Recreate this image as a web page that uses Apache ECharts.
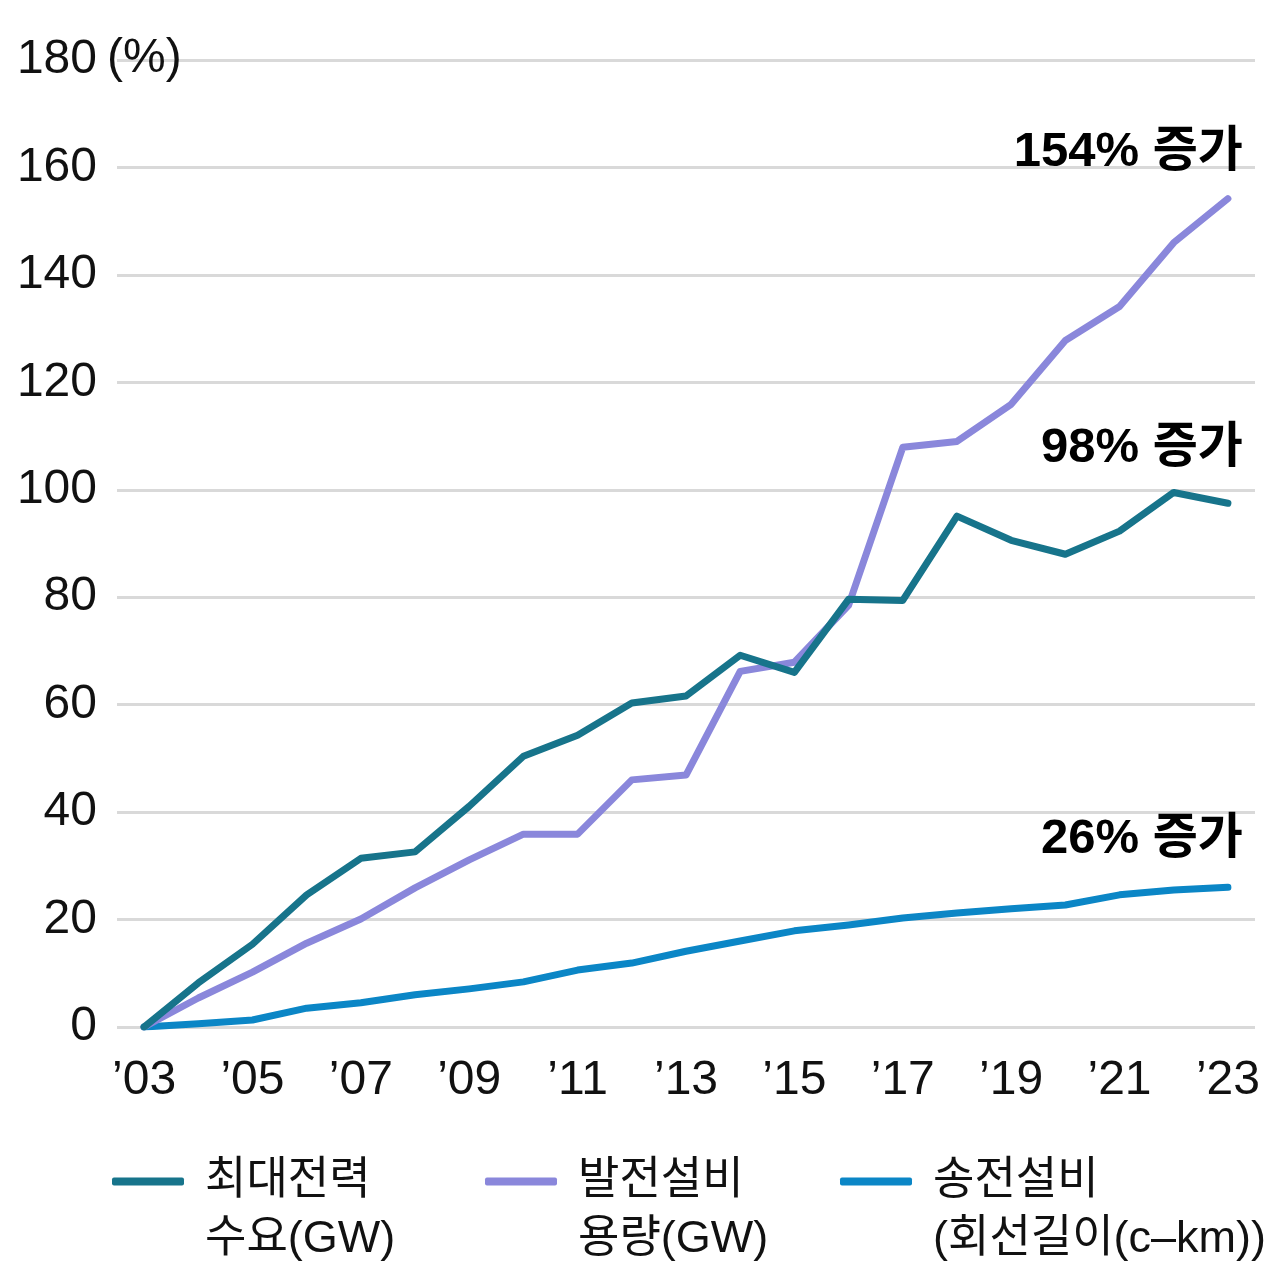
<!DOCTYPE html>
<html>
<head>
<meta charset="utf-8">
<script src="https://cdn.jsdelivr.net/npm/echarts@6/dist/echarts.min.js"></script>
<style>
html,body{margin:0;padding:0;background:#fff;}
#chart{width:1280px;height:1285px;}
</style>
</head>
<body>
<div id="chart"></div>
<script>
const years = ['’03','’04','’05','’06','’07','’08','’09','’10','’11','’12','’13','’14','’15','’16','’17','’18','’19','’20','’21','’22','’23'];
const peakDemand = [0, 8.2, 15.4, 24.6, 31.4, 32.6, 41.1, 50.4, 54.3, 60.3, 61.6, 69.2, 66.0, 79.6, 79.4, 95.1, 90.6, 88.0, 92.3, 99.5, 97.5];
const genCapacity = [0, 5.4, 10.2, 15.6, 20.1, 25.9, 31.1, 35.9, 35.9, 46.0, 46.9, 66.2, 67.9, 78.5, 107.9, 109.0, 115.9, 127.8, 134.1, 146.0, 154.2];
const transLine = [0, 0.6, 1.3, 3.5, 4.5, 6.0, 7.1, 8.4, 10.6, 11.9, 14.1, 16.0, 17.9, 19.0, 20.3, 21.2, 22.0, 22.7, 24.6, 25.5, 26.0];
const seriesNames = ['최대전력\n수요(GW)', '발전설비\n용량(GW)', '송전설비\n(회선길이(c–km))'];
const endNotes = ['98% 증가', '154% 증가', '26% 증가'];
const yTicks = [0, 20, 40, 60, 80, 100, 120, 140, 160, 180];

const NUM_FONT = '"Liberation Sans", "Noto Sans CJK KR", sans-serif';
const colors = ['#17748b', '#8a87db', '#0b86c6'];

const chart = echarts.init(document.getElementById('chart'));

function mkLine(name, data, color, note, dy, z) {
  return {
    name: name, type: 'line', data: data, z: z,
    symbol: 'none', showSymbol: false,
    lineStyle: { color: color, width: 7, cap: 'round', join: 'round' },
    itemStyle: { color: color },
    emphasis: { disabled: true },
    endLabel: {
      show: true, formatter: note, distance: 0,
      align: 'right', verticalAlign: 'middle', offset: [15, dy],
      fontFamily: NUM_FONT, fontWeight: 'bold', fontSize: 49, color: '#000'
    }
  };
}

function mkLegend(name, left) {
  return {
    data: [name], left: left, top: 1154, orient: 'horizontal',
    icon: 'roundRect', itemWidth: 72, itemHeight: 8,
    selectedMode: false,
    formatter: function (n) { return n.split('\n').map(function (s) { return '{t|' + s + '}'; }).join('\n'); },
    textStyle: {
      padding: [58, 0, 0, 16],
      rich: { t: { fontFamily: NUM_FONT, fontSize: 45, color: '#111', lineHeight: 58 } }
    }
  };
}

chart.setOption({
  backgroundColor: '#fff',
  animation: false,
  grid: { left: 117, right: 25, top: 60, bottom: 258 },
  legend: [mkLegend(seriesNames[0], 107), mkLegend(seriesNames[1], 480), mkLegend(seriesNames[2], 835)],
  xAxis: {
    type: 'category', data: years, boundaryGap: true,
    axisLine: { show: false }, axisTick: { show: false },
    axisLabel: { interval: 1, margin: 30, fontFamily: NUM_FONT, fontSize: 48, color: '#111' },
    splitLine: { show: false }
  },
  yAxis: {
    type: 'value', min: 0, max: 180, interval: 20,
    axisLine: { show: false }, axisTick: { show: false },
    axisLabel: { margin: 20, fontFamily: NUM_FONT, fontSize: 48, color: '#111',
      formatter: function (v) { return yTicks.indexOf(v) >= 0 ? String(v) : ''; } },
    splitLine: { lineStyle: { color: '#d9d9d9', width: 3 } }
  },
  graphic: [{
    type: 'text', x: 107, y: 59, z: 10,
    style: { text: '(%)', fontFamily: NUM_FONT, fontSize: 48, fill: '#111', verticalAlign: 'middle', align: 'left' }
  }],
  series: [
    mkLine(seriesNames[2], transLine, colors[2], endNotes[2], -48, 2),
    mkLine(seriesNames[1], genCapacity, colors[1], endNotes[1], -46, 3),
    mkLine(seriesNames[0], peakDemand, colors[0], endNotes[0], -55, 4)
  ]
});
</script>
</body>
</html>
